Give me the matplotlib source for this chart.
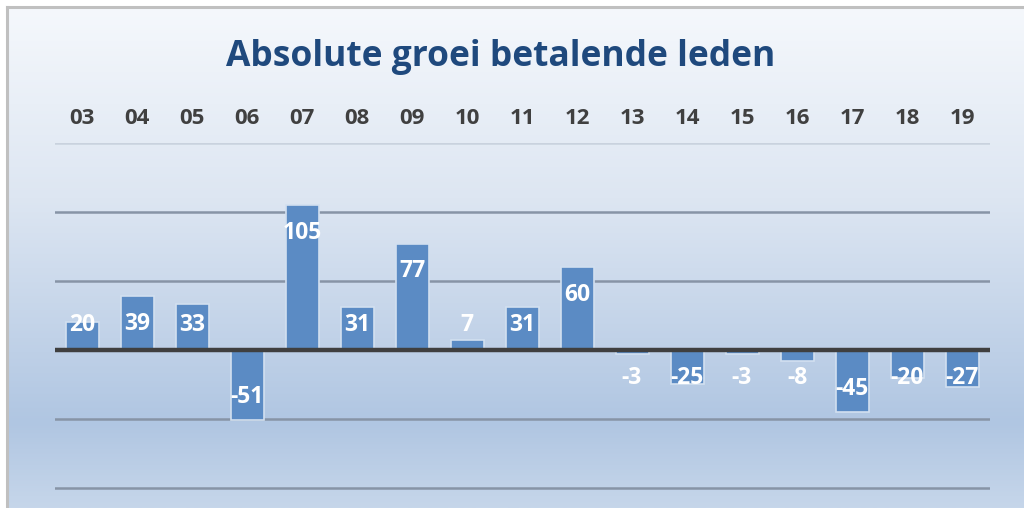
import numpy as np
import matplotlib.pyplot as plt
from matplotlib.colors import LinearSegmentedColormap

years = ['03', '04', '05', '06', '07', '08', '09', '10', '11', '12',
         '13', '14', '15', '16', '17', '18', '19']
growth = [20, 39, 33, -51, 105, 31, 77, 7, 31, 60,
          -3, -25, -3, -8, -45, -20, -27]
gridvals = [150, 100, 50, -50, -100]

plt.rcParams['font.family'] = ['Open Sans', 'DejaVu Sans']

fig = plt.figure(figsize=(10.24, 5.08), dpi=100)
fig.patch.set_facecolor('white')

# gradient background inside the grey frame
bg = fig.add_axes([8 / 1024, 0, 1 - 8 / 1024, 1 - 8 / 508])
bg.set_axis_off()
grad = LinearSegmentedColormap.from_list('bg', [
    (0.0, '#f5f8fc'), (0.38, '#dde6f2'), (0.83, '#b0c6e2'), (1.0, '#c6d6ea')])
bg.imshow(np.linspace(0, 1, 256).reshape(-1, 1), aspect='auto', cmap=grad,
          extent=[0, 1, 0, 1])
bg.set_xlim(0, 1)
bg.set_ylim(0, 1)
fig.add_artist(plt.Line2D([7 / 1024, 7 / 1024], [0, 1 - 7 / 508], color='#c0c0c0',
                          lw=2.2, transform=fig.transFigure))
fig.add_artist(plt.Line2D([7 / 1024, 1], [1 - 7 / 508, 1 - 7 / 508], color='#c0c0c0',
                          lw=2.2, transform=fig.transFigure))

ax = fig.add_axes([54.5 / 1024, 0, 935 / 1024, (508 - 143) / 508])
ax.patch.set_alpha(0)
x = np.arange(len(years))
ax.bar(x, growth, width=0.6, color='#5b8bc4', edgecolor='#d2e0f0', linewidth=1.2, zorder=3)

for g in gridvals:
    col = '#c9d2de' if g == 150 else '#8794a6'
    ax.axhline(g, color=col, lw=1.8, zorder=1)
ax.axhline(0, color='#3f3f3f', lw=3.2, zorder=4)

for xi, v in zip(x, growth):
    if v >= 0:
        ly = max(v - 20, 18)
    else:
        ly = min(v + 17, -20)
    ax.text(xi, ly, str(v), ha='center', va='center', color='white',
            fontsize=16.5, fontweight='bold', zorder=5)

ax.set_xlim(-0.5, len(years) - 0.5)
ax.set_ylim(-114.5, 150)
ax.set_yticks([])
ax.set_xticks(x)
ax.set_xticklabels(years, fontsize=16, fontweight='bold', color='#404040')
ax.xaxis.tick_top()
ax.tick_params(axis='x', length=0, pad=10)
for s in ax.spines.values():
    s.set_visible(False)

fig.text(501 / 1024, 1 - 57 / 508, 'Absolute groei betalende leden', ha='center',
         va='center', fontsize=25.5, fontweight='bold', color='#1f497d')

fig.savefig('out.png', dpi=100)
